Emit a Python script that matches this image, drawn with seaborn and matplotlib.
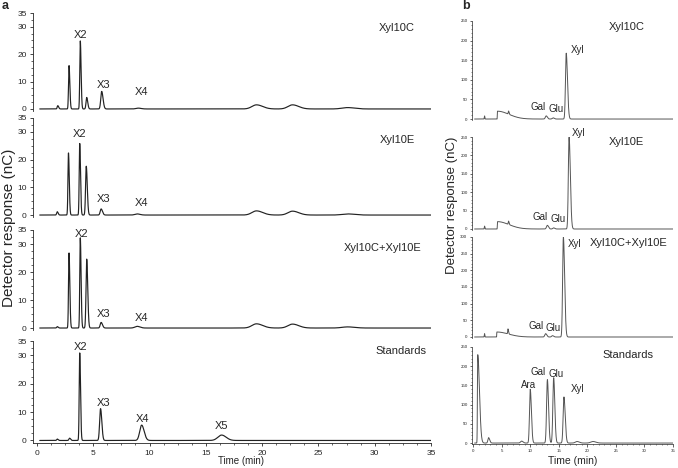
import numpy as np
import pandas as pd
import seaborn as sns
import matplotlib.pyplot as plt
from matplotlib.ticker import MultipleLocator, FixedLocator

# ---------------- data: peak tables ----------------
# each peak: retention time (min), height (nC), left sigma, right sigma (min)

# (a) oligosaccharides, left panels
a_xyl10c_rt = [1.85, 2.85, 3.85, 4.42, 5.75, 9.0, 19.5, 22.7, 27.6]
a_xyl10c_h = [1.2, 15.8, 24.8, 4.2, 6.4, 0.3, 1.5, 1.5, 0.5]
a_xyl10e_rt = [1.8, 2.8, 3.8, 4.38, 5.7, 8.9, 19.5, 22.7, 27.6]
a_xyl10e_h = [1.2, 22.4, 25.8, 17.6, 2.2, 0.4, 1.5, 1.4, 0.4]
a_mix_rt = [1.8, 2.85, 3.85, 4.42, 5.7, 8.9, 19.5, 22.7, 27.6]
a_mix_h = [0.5, 26.8, 32.2, 24.6, 2.0, 0.6, 1.5, 1.4, 0.4]
a_sig_l = [0.05, 0.045, 0.045, 0.06, 0.08, 0.2, 0.4, 0.4, 0.5]
a_sig_r = [0.08, 0.07, 0.07, 0.09, 0.12, 0.25, 0.55, 0.55, 0.6]

a_std_rt = [1.8, 2.9, 3.8, 5.65, 9.3, 16.4]
a_std_h = [0.5, 0.8, 30.8, 11.2, 5.4, 1.9]
a_std_sl = [0.05, 0.06, 0.045, 0.08, 0.17, 0.33]
a_std_sr = [0.08, 0.09, 0.07, 0.11, 0.22, 0.4]

# (b) monosaccharides, right panels
b_xyl10c_rt = [2.0, 4.25, 6.2, 12.8, 14.0, 16.3]
b_xyl10c_h = [8, 20, 8, 8, 3, 168]
b_xyl10e_rt = [2.0, 4.25, 6.2, 13.0, 14.1, 16.8]
b_xyl10e_h = [8, 20, 9, 10, 3, 250]
b_mix_rt = [2.0, 4.15, 6.1, 12.7, 13.9, 15.8]
b_mix_h = [10, 15, 15, 10, 4, 300]
b_sig_l = [0.04, 0.02, 0.05, 0.15, 0.15, 0.13]
b_sig_r = [0.05, 2.0, 0.1, 0.2, 0.2, 0.22]

b_std_rt = [0.8, 2.7, 8.5, 10.0, 13.0, 14.1, 15.9, 18.2, 21.0]
b_std_h = [230, 14, 5, 140, 165, 170, 120, 4, 4]
b_std_sl = [0.05, 0.12, 0.2, 0.13, 0.14, 0.14, 0.14, 0.3, 0.4]
b_std_sr = [0.3, 0.2, 0.25, 0.2, 0.2, 0.2, 0.22, 0.4, 0.5]

a_names = ["Xyl10C", "Xyl10E", "Xyl10C+Xyl10E", "Standards"]
x_ticks = [0, 5, 10, 15, 20, 25, 30, 35]


def trace(t, rt, h, sl, sr):
    y = np.zeros_like(t)
    for r, a, s1, s2 in zip(rt, h, sl, sr):
        s = np.where(t < r, s1, s2)
        y += a * np.exp(-0.5 * ((t - r) / s) ** 2)
    return y


t = np.linspace(0.25, 35, 7000)

sns.set_style('ticks')
plt.rcParams['font.family'] = ['Liberation Sans', 'DejaVu Sans']

W, H = 678, 468
fig = plt.figure(figsize=(W / 100, H / 100), dpi=100)


def px_axes(x0, x1, ytop, ybot):
    return fig.add_axes([x0 / W, 1 - ybot / H, (x1 - x0) / W, (ybot - ytop) / H])


# ---------------- panel a ----------------
a_traces = [
    (a_xyl10c_rt, a_xyl10c_h, a_sig_l, a_sig_r),
    (a_xyl10e_rt, a_xyl10e_h, a_sig_l, a_sig_r),
    (a_mix_rt, a_mix_h, a_sig_l, a_sig_r),
    (a_std_rt, a_std_h, a_std_sl, a_std_sr),
]
a_boxes = [(13, 110.6, -0.6), (118, 216.7, -0.6), (230, 329.7, -0.6), (341, 443.3, -1.0)]
a_labels = [
    [("X2", 3.9, 27.0), ("X3", 5.9, 8.8), ("X4", 9.3, 6.3)],
    [("X2", 3.8, 29.3), ("X3", 5.9, 5.8), ("X4", 9.3, 4.2)],
    [("X2", 3.95, 33.7), ("X3", 5.9, 5.0), ("X4", 9.3, 3.5)],
    [("X2", 3.85, 32.8), ("X3", 5.9, 13.1), ("X4", 9.4, 7.7), ("X5", 16.4, 5.1)],
]
a_name_pos = [(32.0, 29.5), (32.0, 27.0), (30.7, 28.5), (32.3, 31.6)]

for i, ((rt, h, sl, sr), (yt, yb, ylo)) in enumerate(zip(a_traces, a_boxes)):
    ax = px_axes(33, 431, yt, yb)
    df = pd.DataFrame({"time": t, "signal": trace(t, rt, h, sl, sr)})
    sns.lineplot(data=df, x="time", y="signal", color="#222222", linewidth=0.85, ax=ax)
    ax.set_xlim(-0.35, 35)
    ax.set_ylim(ylo, 35)
    ax.yaxis.set_major_locator(FixedLocator([0, 10, 20, 30, 35]))
    ax.yaxis.set_minor_locator(MultipleLocator(2.5))
    ax.tick_params(axis='both', which='major', labelsize=6, length=2.5, width=0.6, pad=2)
    ax.tick_params(axis='both', which='minor', length=1.5, width=0.5)
    ax.set_xlabel("")
    ax.set_ylabel("")
    ax.spines[['right', 'top']].set_visible(False)
    for s in ['left', 'bottom']:
        ax.spines[s].set_linewidth(0.6)
    if i < 3:
        ax.spines['bottom'].set_visible(False)
        ax.set_xticks([])
        ax.xaxis.set_minor_locator(FixedLocator([]))
    else:
        ax.set_xticks(x_ticks)
        ax.xaxis.set_minor_locator(MultipleLocator(1.25))
    for txt, x, y in a_labels[i]:
        ax.text(x, y, txt, fontsize=8, ha='center', va='center')
    nx, ny = a_name_pos[i]
    ax.text(nx, ny, a_names[i], fontsize=8, ha='center', va='center')

# ---------------- panel b ----------------
b_traces = [
    (b_xyl10c_rt, b_xyl10c_h, b_sig_l, b_sig_r),
    (b_xyl10e_rt, b_xyl10e_h, b_sig_l, b_sig_r),
    (b_mix_rt, b_mix_h, b_sig_l, b_sig_r),
    (b_std_rt, b_std_h, b_std_sl, b_std_sr),
]
b_boxes = [(21, 120.2, 250), (137, 230.1, 250), (237, 338.0, 300), (347, 444.2, 250)]
b_labels = [
    [("Xyl", 18.2, 176), ("Gal", 11.4, 30), ("Glu", 14.5, 25)],
    [("Xyl", 18.5, 262), ("Gal", 11.7, 32), ("Glu", 14.8, 26)],
    [("Xyl", 17.7, 279), ("Gal", 11.0, 34), ("Glu", 14.0, 26)],
    [("Ara", 9.7, 150), ("Gal", 11.3, 184), ("Glu", 14.5, 180), ("Xyl", 18.2, 140)],
]
b_name_pos = [(26.9, 235), (26.9, 236), (27.2, 281), (27.2, 230)]

for i, ((rt, h, sl, sr), (yt, yb, ytop)) in enumerate(zip(b_traces, b_boxes)):
    ax = px_axes(472, 673, yt, yb)
    df = pd.DataFrame({"time": t, "signal": trace(t, rt, h, sl, sr)})
    sns.lineplot(data=df, x="time", y="signal", color="#555555", linewidth=0.7, ax=ax)
    ax.set_xlim(-0.2, 35)
    ax.set_ylim(-3, ytop)
    ax.yaxis.set_major_locator(MultipleLocator(50))
    ax.yaxis.set_minor_locator(MultipleLocator(10))
    ax.tick_params(axis='both', which='major', labelsize=3.2, length=1.8, width=0.5, pad=1.5)
    ax.tick_params(axis='both', which='minor', length=1.0, width=0.4)
    ax.set_xlabel("")
    ax.set_ylabel("")
    ax.spines[['right', 'top']].set_visible(False)
    for s in ['left', 'bottom']:
        ax.spines[s].set_linewidth(0.5)
    if i < 3:
        ax.spines['bottom'].set_visible(False)
        ax.set_xticks([])
        ax.xaxis.set_minor_locator(FixedLocator([]))
    else:
        ax.set_xticks(x_ticks)
        ax.xaxis.set_minor_locator(MultipleLocator(1))
    for txt, x, y in b_labels[i]:
        ax.text(x, y, txt, fontsize=7, ha='center', va='center', clip_on=False)
    nx, ny = b_name_pos[i]
    ax.text(nx, ny, a_names[i], fontsize=8, ha='center', va='center')

# ---------------- shared labels ----------------
fig.text(9 / W, 1 - 228 / H, "Detector response (nC)", rotation=90, fontsize=11,
         ha='center', va='center')
fig.text(452 / W, 1 - 205 / H, "Detector response (nC)", rotation=90, fontsize=9.5,
         ha='center', va='center')
fig.text(241 / W, 1 - 461 / H, "Time (min)", fontsize=7, ha='center', va='center')
fig.text(573 / W, 1 - 461 / H, "Time (min)", fontsize=7.5, ha='center', va='center')
fig.text(5 / W, 1 - 6 / H, "a", fontsize=9, fontweight='bold', ha='center', va='center')
fig.text(466 / W, 1 - 6 / H, "b", fontsize=9, fontweight='bold', ha='center', va='center')

plt.savefig("out.png", dpi=100)
